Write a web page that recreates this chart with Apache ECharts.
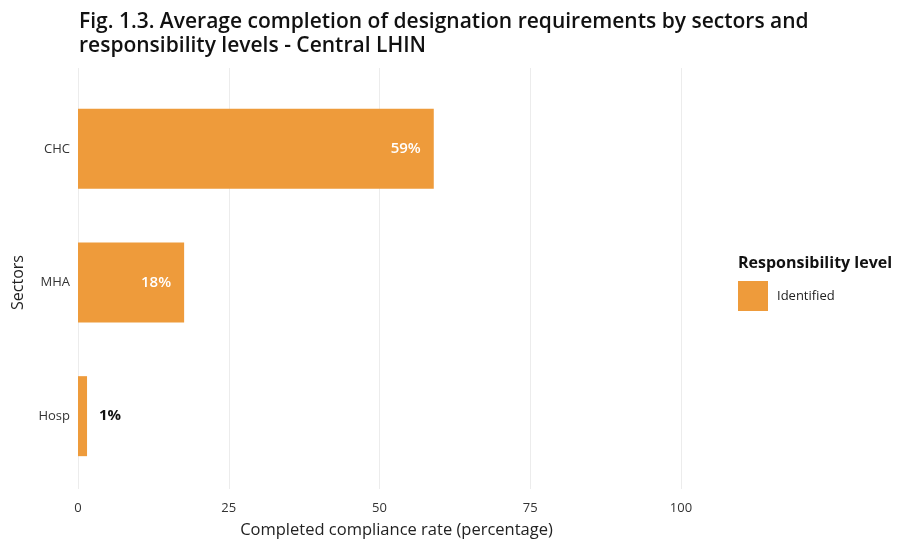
<!DOCTYPE html>
<html><head><meta charset="utf-8">
<script src="https://cdn.jsdelivr.net/npm/echarts@6/dist/echarts.min.js"></script>
<style>html,body{margin:0;padding:0;background:#fff}#c{width:901px;height:544px}</style>
</head><body><div id="c"></div>
<script>
const categories = ['CHC', 'MHA', 'Hosp'];
const values = [59, 17.6, 1.5];
const labels = ['59%', '18%', '1%'];
const xTicks = [0, 25, 50, 75, 100];
const seriesName = 'Identified';

const FONT = '"Open Sans", Lato, sans-serif';
const chart = echarts.init(document.getElementById('c'), null, {renderer: 'canvas'});
chart.setOption({
  animation: false,
  backgroundColor: '#fff',
  title: [
    {text: 'Fig. 1.3. Average completion of designation requirements by sectors and\nresponsibility levels - Central LHIN',
     left: 74, top: 5, textStyle: {fontFamily: FONT, fontWeight: 600, fontSize: 21, lineHeight: 24, color: '#111'}},
    {text: 'Responsibility level', left: 733, top: 250,
     textStyle: {fontFamily: FONT, fontWeight: 'bold', fontSize: 16, color: '#111'}}
  ],
  legend: {
    data: [seriesName], left: 733, top: 276, orient: 'vertical', icon: 'rect',
    itemWidth: 30, itemHeight: 30, itemGap: 10,
    textStyle: {fontFamily: FONT, fontSize: 13, color: '#222', padding: [0, 0, 0, 4]}
  },
  grid: [
    {left: 78, right: 220, top: 68, bottom: 48, containLabel: false},
    {left: 78, right: 220, top: 82, bottom: 61, containLabel: false}
  ],
  xAxis: [
    {gridIndex: 0, type: 'value', min: 0, max: 100, interval: 25,
     axisLine: {show: false}, axisTick: {show: false},
     splitLine: {show: true, lineStyle: {color: '#ececec', width: 1}},
     axisLabel: {fontFamily: FONT, fontSize: 13, color: '#333', margin: 13},
     name: 'Completed compliance rate (percentage)', nameLocation: 'middle', nameGap: 33,
     nameTextStyle: {fontFamily: FONT, fontSize: 16.5, color: '#222', padding: [0, 0, 0, 34]}},
    {gridIndex: 1, type: 'value', min: 0, max: 100, interval: 25, show: false}
  ],
  yAxis: [
    {gridIndex: 0, type: 'value', show: false},
    {gridIndex: 1, type: 'category', data: categories, inverse: true,
     axisLine: {show: false}, axisTick: {show: false}, splitLine: {show: false},
     axisLabel: {fontFamily: FONT, fontSize: 13, color: '#333', margin: 8},
     name: 'Sectors', nameLocation: 'middle', nameGap: 52, nameRotate: 90,
     nameTextStyle: {fontFamily: FONT, fontSize: 16, color: '#222'}}
  ],
  series: [{
    name: seriesName, type: 'bar', xAxisIndex: 1, yAxisIndex: 1,
    barWidth: 80,
    itemStyle: {color: '#EE9B3B'},
    data: values.map((v, i) => ({
      value: v,
      label: i === 2
        ? {show: true, position: 'right', distance: 12, formatter: labels[i], color: '#111', fontWeight: 'bold', fontSize: 15, fontFamily: FONT}
        : {show: true, position: 'insideRight', distance: 13, formatter: labels[i], color: '#fff', fontWeight: 600, fontSize: 15, fontFamily: FONT}
    }))
  }]
});
</script></body></html>
